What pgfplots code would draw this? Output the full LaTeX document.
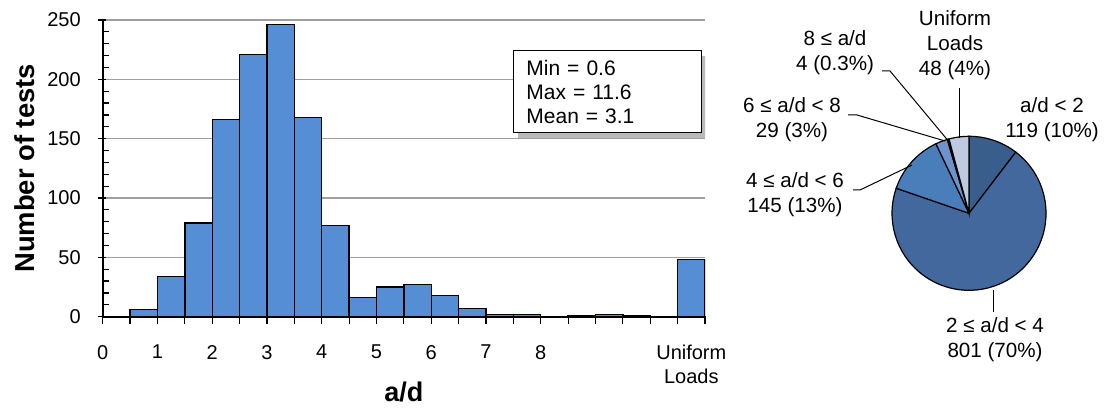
\documentclass[border=0pt]{standalone}
\usepackage{fontspec}
\setmainfont{Liberation Sans}
\usepackage{pgfplots}
\pgfplotsset{compat=1.18}
\usepackage{pgfplotstable}
\usetikzlibrary{shadows}

\definecolor{barblue}{HTML}{558ED5}
\definecolor{pieA}{HTML}{3A5E8C}
\definecolor{pieB}{HTML}{42689E}
\definecolor{pieC}{HTML}{4A7EBB}
\definecolor{pieD}{HTML}{6E93CC}
\definecolor{pieE}{HTML}{2B4A75}
\definecolor{pieF}{HTML}{BECAE1}

% histogram: left edge of each 0.5-wide bin, count
\pgfplotstableread{
x n
0.5 6
1.0 34
1.5 79
2.0 166
2.5 221
3.0 246
3.5 168
4.0 77
4.5 16
5.0 25
5.5 27
6.0 18
6.5 7
7.0 2
7.5 2
8.0 0
8.5 1
9.0 2
9.5 1
10.0 0
10.5 48
11.0 0
}\hist

% pie counts
\def\cA{119}\def\cB{801}\def\cC{145}\def\cD{29}\def\cE{4}\def\cF{48}
\pgfmathsetmacro\tot{\cA+\cB+\cC+\cD+\cE+\cF}
\pgfmathsetmacro\aA{90}
\pgfmathsetmacro\aB{\aA-\cA/\tot*360}
\pgfmathsetmacro\aC{\aB-\cB/\tot*360}
\pgfmathsetmacro\aD{\aC-\cC/\tot*360}
\pgfmathsetmacro\aE{\aD-\cD/\tot*360}
\pgfmathsetmacro\aF{\aE-\cE/\tot*360}
\pgfmathsetmacro\aG{\aF-\cF/\tot*360}

\begin{document}
\begin{tikzpicture}
\useasboundingbox (0,0) rectangle (553.5pt,203.5pt);
\begin{axis}[
  at={(51.35pt,45.15pt)}, anchor=south west,
  scale only axis, width=301.15pt, height=148.35pt,
  xmin=0, xmax=11, ymin=0, ymax=250,
  axis x line*=bottom, axis y line*=left,
  axis line style={line width=0.9pt},
  tick align=inside,
  major tick length=4pt, minor tick length=3pt,
  tick style={black, line width=0.6pt},
  every major x tick/.append style={yshift=-3.5pt},
  every major y tick/.append style={xshift=-2.5pt},
  ytick={0,50,...,250}, minor y tick num=4,
  ymajorgrids, grid style={draw=gray!75, line width=0.6pt},
  xtick={0,0.5,...,11},
  xticklabels={0,{},1,{},2,{},3,{},4,{},5,{},6,{},7,{},8,{},{},{},{},{},{}},
  extra x ticks={10.75},
  extra x tick labels={Uniform\\Loads},
  extra x tick style={major tick length=0pt},
  /pgf/number format/assume math mode=true,
  tick label style={font=\fontsize{10}{12}\selectfont},
  xticklabel style={align=center, anchor=north, yshift=-10.7pt},
  yticklabel style={xshift=-7.5pt},
  ylabel={Number of tests},
  ylabel style={font=\bfseries\fontsize{13.7}{16}\selectfont, at={(axis description cs:-0.129,0.5)}, anchor=center},
  xlabel={a/d},
  xlabel style={font=\bfseries\fontsize{13.5}{16}\selectfont, at={(axis description cs:0.5,-0.2528)}, anchor=center},
]
\addplot[ybar interval, fill=barblue, draw=black, line width=0.7pt] table[x=x, y=n] {\hist};
\node[draw=black, line width=0.6pt, fill=white, anchor=north west,
      drop shadow={shadow xshift=2.5pt, shadow yshift=-2.5pt, fill=gray!55, opacity=1},
      text width=81pt, inner xsep=6.5pt, minimum height=41pt, align=left,
      font=\fontsize{10.5}{12}\selectfont]
  at (axis cs:7.49,224.7) {Min = 0.6\\Max = 11.6\\Mean = 3.1};
\end{axis}

\begin{axis}[
  at={(0pt,0pt)}, anchor=south west,
  scale only axis, width=553.5pt, height=203.5pt,
  xmin=0, xmax=1107, ymin=0, ymax=407,
  hide axis, clip=false,
]
\addplot[draw=none, forget plot] coordinates {(969,193.7)};
\filldraw[fill=pieA, draw=black, line width=0.6pt] (axis cs:969,193.7) -- ([shift={(\aA:38.5pt)}]axis cs:969,193.7) arc[start angle=\aA, end angle=\aB, radius=38.5pt] -- cycle;
\filldraw[fill=pieB, draw=black, line width=0.6pt] (axis cs:969,193.7) -- ([shift={(\aB:38.5pt)}]axis cs:969,193.7) arc[start angle=\aB, end angle=\aC, radius=38.5pt] -- cycle;
\filldraw[fill=pieC, draw=black, line width=0.6pt] (axis cs:969,193.7) -- ([shift={(\aC:38.5pt)}]axis cs:969,193.7) arc[start angle=\aC, end angle=\aD, radius=38.5pt] -- cycle;
\filldraw[fill=pieD, draw=black, line width=0.6pt] (axis cs:969,193.7) -- ([shift={(\aD:38.5pt)}]axis cs:969,193.7) arc[start angle=\aD, end angle=\aE, radius=38.5pt] -- cycle;
\filldraw[fill=pieE, draw=black, line width=0.6pt] (axis cs:969,193.7) -- ([shift={(\aE:38.5pt)}]axis cs:969,193.7) arc[start angle=\aE, end angle=\aF, radius=38.5pt] -- cycle;
\filldraw[fill=pieF, draw=black, line width=0.6pt] (axis cs:969,193.7) -- ([shift={(\aF:38.5pt)}]axis cs:969,193.7) arc[start angle=\aF, end angle=\aG, radius=38.5pt] -- cycle;

\draw[line width=0.5pt] (axis cs:959,319) -- (axis cs:959,269);
\draw[line width=0.5pt] (axis cs:882,336) -- (axis cs:890,336) -- (axis cs:950,264);
\draw[line width=0.5pt] (axis cs:848,292) -- (axis cs:857,292) -- (axis cs:945,266);
\draw[line width=0.5pt] (axis cs:853,217) -- (axis cs:860,217) -- (axis cs:912,242);
\draw[line width=0.5pt] (axis cs:993,117) -- (axis cs:993,95);

\begin{scope}[every node/.style={align=center, font=\fontsize{10.3}{12.5}\selectfont}]
\node at (axis cs:955,361.5) {Uniform\\Loads\\48 (4\%)};
\node at (axis cs:835,354.5) {8 ≤ a/d\\4 (0.3\%)};
\node at (axis cs:792,287) {6 ≤ a/d < 8\\29 (3\%)};
\node at (axis cs:795,212.5) {4 ≤ a/d < 6\\145 (13\%)};
\node at (axis cs:1052,287) {a/d < 2\\119 (10\%)};
\node at (axis cs:995,67) {2 ≤ a/d < 4\\801 (70\%)};
\end{scope}
\end{axis}
\end{tikzpicture}
\end{document}
